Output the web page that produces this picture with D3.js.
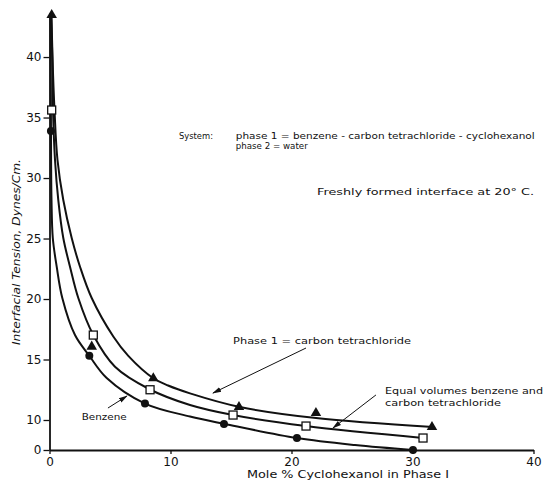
<!DOCTYPE html>
<html>
<head>
<meta charset="utf-8">
<script src="https://cdn.jsdelivr.net/npm/d3@7"></script>
<style>
    body { margin: 0; background: #fff; }
    text { font-family: "DejaVu Sans", sans-serif; fill: #111; }
    .note { font-size: 9.5px; }
</style>
</head>
<body>
<div id="chart"></div>
<script>
// tick values and labels (the bottom "0" sits under a broken axis)
var xTickValues = [0, 10, 20, 30, 40];
var xTickLabels = ["0", "10", "20", "30", "40"];
var yTickValues = [7.52, 10, 15, 20, 25, 30, 35, 40];
var yTickLabels = ["0", "10", "15", "20", "25", "30", "35", "40"];

// measured points: [mole % cyclohexanol, tension]
var ccl4Points = [[0.18, 43.47], [3.49, 16.06], [8.58, 13.45], [15.66, 11.07], [22.02, 10.58], [31.61, 9.42]];
var equalPoints = [[0.18, 35.62], [3.62, 17.02], [8.31, 12.5], [15.17, 10.41], [21.2, 9.5], [30.87, 8.51]];
var benzenePoints = [[0.12, 33.88], [3.29, 15.31], [7.89, 11.36], [14.42, 9.67], [20.45, 8.51], [30.04, 7.52]];

// hand drawn smooth curves
var ccl4Curve = [[0.165, 43.64], [0.248, 40.0], [0.413, 35.62], [0.661, 31.49], [1.14, 28.18], [1.835, 25.04],
    [2.521, 22.67], [3.488, 20.08], [5.273, 16.9], [6.512, 15.3], [8.579, 13.45], [9.8, 12.85],
    [11.612, 12.2], [15.744, 11.07], [22.025, 10.16], [31.694, 9.42]];
var equalCurve = [[0.124, 43.47], [0.231, 40.0], [0.289, 35.62], [0.455, 31.49], [0.727, 28.18], [1.14, 25.04],
    [1.694, 22.67], [2.38, 20.08], [3.62, 17.02], [5.413, 14.4], [8.306, 12.52], [11.612, 11.24],
    [15.165, 10.41], [21.198, 9.5], [30.868, 8.51]];
var benzeneCurve = [[0.083, 43.47], [0.099, 40.0], [0.116, 35.62], [0.132, 31.49], [0.165, 28.18], [0.273, 25.04],
    [0.595, 22.67], [1.058, 20.08], [2.107, 17.02], [3.289, 15.31], [4.727, 13.47], [7.893, 11.36],
    [11.612, 10.29], [14.504, 9.67], [20.455, 8.51], [25.248, 7.93], [30.041, 7.52]];

// annotation texts, placed in data coordinates
var noteTexts = ["System:", "phase 1 = benzene - carbon  tetrachloride - cyclohexanol", "phase 2 = water",
    "Freshly  formed  interface  at  20° C.", "Phase 1 = carbon  tetrachloride",
    "Equal  volumes  benzene  and", "carbon  tetrachloride", "Benzene"];
var noteX = [10.70, 15.39, 15.39, 22.11, 15.17, 27.73, 27.73, 2.66];
var noteY = [33.26, 33.26, 32.39, 28.59, 16.28, 12.15, 11.16, 10.0];
var noteWidth = [34, 299, 72, 217, 178, 158, 116, 45];

// arrows: [x1, y1, x2, y2], head at the second end
var arrows = [[21.2, 15.95, 13.51, 12.23], [26.98, 12.07, 23.43, 9.34], [4.83, 10.99, 6.40, 11.98]];

var svg = d3.select("#chart")
    .append("svg")
    .attr("width", 544)
    .attr("height", 482);

var xScale = d3.scaleLinear()
    .domain([0, 40])
    .range([49.5, 533.5]);

var yScale = d3.scaleLinear()
    .domain([7.52, 43.64])
    .range([450, 13]);

svg.append("defs")
    .append("marker")
    .attr("id", "arrow")
    .attr("viewBox", "0 0 10 10")
    .attr("refX", 9)
    .attr("refY", 5)
    .attr("markerWidth", 9)
    .attr("markerHeight", 9)
    .attr("orient", "auto")
    .append("path")
    .attr("d", "M0,2.2L10,5L0,7.8Z")
    .attr("fill", "#111");

// Axes
var xAxis = svg.append("g")
    .attr("transform", "translate(0," + yScale(7.52) + ")")
    .call(d3.axisBottom(xScale)
        .tickValues(xTickValues)
        .tickFormat(function (d, i) { return xTickLabels[i]; })
        .tickSize(4)
        .tickSizeOuter(0)
        .tickPadding(3));

var yAxis = svg.append("g")
    .attr("transform", "translate(" + xScale(0) + ",0)")
    .call(d3.axisLeft(yScale)
        .tickValues(yTickValues)
        .tickFormat(function (d, i) { return yTickLabels[i]; })
        .tickSize(6)
        .tickSizeOuter(0)
        .tickPadding(2));

svg.selectAll(".domain").attr("stroke", "#111").attr("stroke-width", 1.8);
svg.selectAll(".tick line").attr("stroke", "#111").attr("stroke-width", 1.3);
svg.selectAll(".tick text").attr("font-family", "DejaVu Sans").attr("font-size", 12).attr("fill", "#111");

// Labels
svg.append("text")
    .attr("x", 247)
    .attr("y", 478)
    .attr("font-size", 10)
    .attr("textLength", 202)
    .attr("lengthAdjust", "spacingAndGlyphs")
    .text("Mole % Cyclohexanol in Phase I");

svg.append("text")
    .attr("transform", "translate(20, 252) rotate(-90)")
    .attr("text-anchor", "middle")
    .attr("font-size", 10)
    .attr("font-style", "italic")
    .attr("textLength", 186)
    .attr("lengthAdjust", "spacingAndGlyphs")
    .text("Interfacial  Tension,  Dynes/Cm.");

// Curves
var line = d3.line()
    .x(function (d) { return xScale(d[0]); })
    .y(function (d) { return yScale(d[1]); })
    .curve(d3.curveCatmullRom.alpha(0.5));

svg.selectAll(".curve")
    .data([ccl4Curve, equalCurve, benzeneCurve])
    .enter()
    .append("path")
    .attr("class", "curve")
    .attr("fill", "none")
    .attr("stroke", "#111")
    .attr("stroke-width", 2)
    .attr("d", line);

// Points
svg.selectAll(".dot")
    .data(benzenePoints)
    .enter()
    .append("circle")
    .attr("cx", function (d) { return xScale(d[0]); })
    .attr("cy", function (d) { return yScale(d[1]); })
    .attr("r", 4)
    .attr("fill", "#111");

svg.selectAll(".sq")
    .data(equalPoints)
    .enter()
    .append("rect")
    .attr("x", function (d) { return xScale(d[0]) - 4; })
    .attr("y", function (d) { return yScale(d[1]) - 4; })
    .attr("width", 8)
    .attr("height", 8)
    .attr("fill", "#fff")
    .attr("stroke", "#111")
    .attr("stroke-width", 1.3);

svg.selectAll(".tri")
    .data(ccl4Points)
    .enter()
    .append("path")
    .attr("transform", function (d) { return "translate(" + xScale(d[0]) + "," + yScale(d[1]) + ")"; })
    .attr("d", d3.symbol().type(d3.symbolTriangle).size(48))
    .attr("fill", "#111");

// Annotations
svg.selectAll(".note")
    .data(noteTexts)
    .enter()
    .append("text")
    .attr("class", "note")
    .attr("x", function (d, i) { return xScale(noteX[i]); })
    .attr("y", function (d, i) { return yScale(noteY[i]); })
    .attr("font-size", function (d, i) { return i == 1 || i == 2 ? 9 : 9.5; })
    .attr("textLength", function (d, i) { return noteWidth[i]; })
    .attr("lengthAdjust", "spacingAndGlyphs")
    .text(function (d) { return d; });

svg.selectAll(".arrow")
    .data(arrows)
    .enter()
    .append("line")
    .attr("x1", function (d) { return xScale(d[0]); })
    .attr("y1", function (d) { return yScale(d[1]); })
    .attr("x2", function (d) { return xScale(d[2]); })
    .attr("y2", function (d) { return yScale(d[3]); })
    .attr("stroke", "#111")
    .attr("stroke-width", 1)
    .attr("marker-end", "url(#arrow)");
</script>
</body>
</html>
